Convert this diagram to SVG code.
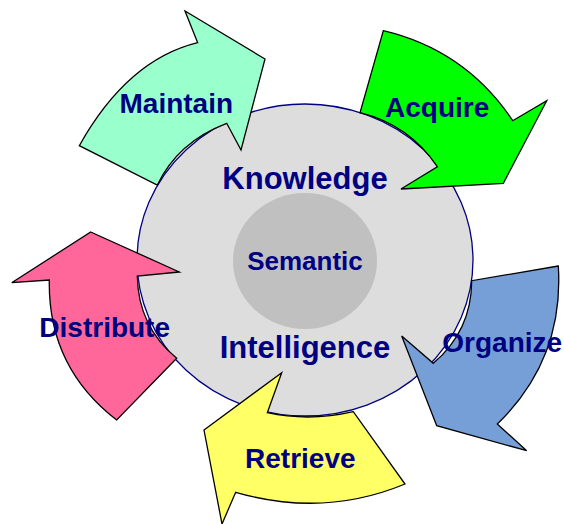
<svg xmlns="http://www.w3.org/2000/svg" width="564" height="524" viewBox="0 0 564 524">
<style>
.arrow{stroke:#000;stroke-width:1.3;stroke-linejoin:miter}
.t{font-family:"Liberation Sans",Arial,sans-serif;font-weight:bold;fill:#000080;text-anchor:middle}
.lbl{font-size:28px}
.big{font-size:31px}
</style>
<rect width="564" height="524" fill="#fff"/>
<g id="core">
<ellipse cx="305" cy="260" rx="168" ry="156" fill="#dddddd" stroke="#000080" stroke-width="1.3"/>
<ellipse cx="305" cy="261" rx="72" ry="68" fill="#c0c0c0"/>
</g>
<g id="connectors">
<path id="arrow-maintain" class="arrow" fill="#99ffcc" d="M265,59 L185,11 L197.7,42.7 Q127.5,59.8 79.3,145.7 L157.3,185 Q178,141.8 226.7,123.3 L241,150 Z"/>
<path id="arrow-acquire" class="arrow" fill="#00ff00" d="M383.3,30.7 Q465.8,50.3 512.7,120.7 L546.7,100.7 L503.3,183.3 L401,189 L437.3,166.7 Q409.1,124.9 360,112.7 Z"/>
<path id="arrow-organize" class="arrow" fill="#759fd6" d="M558.3,266 L471.7,280.7 Q471.5,330.8 433.3,363.3 L401.7,336 L436.7,425.7 L526.7,450.7 L497.3,424 Q564.2,359 558.3,266 Z"/>
<path id="arrow-retrieve" class="arrow" fill="#ffff66" d="M281.7,372.7 L267.3,412.7 Q309.7,421.8 353.3,411.7 L405,484 Q323.6,517.8 235.7,492.3 L222,524 L204,430 Z"/>
<path id="arrow-distribute" class="arrow" fill="#ff6699" d="M90.7,232 L179.3,272 L137.3,276 Q138,326.2 176.7,358.3 L116.7,420 Q47.8,367 49.3,280 L11.7,282.7 Z"/>
</g>
<g id="node-knowledge"><text class="t big" x="305" y="189">Knowledge</text></g>
<g id="node-semantic"><text class="t" font-size="26" x="305" y="270">Semantic</text></g>
<g id="node-intelligence"><text class="t big" x="305" y="358">Intelligence</text></g>
<g id="node-maintain"><text class="t lbl" x="176.3" y="113">Maintain</text></g>
<g id="node-acquire"><text class="t lbl" x="437.2" y="117">Acquire</text></g>
<g id="node-organize"><text class="t lbl" x="502.2" y="351.5">Organize</text></g>
<g id="node-retrieve"><text class="t lbl" x="300.3" y="468.3">Retrieve</text></g>
<g id="node-distribute"><text class="t lbl" x="104.7" y="337.3">Distribute</text></g>
</svg>
